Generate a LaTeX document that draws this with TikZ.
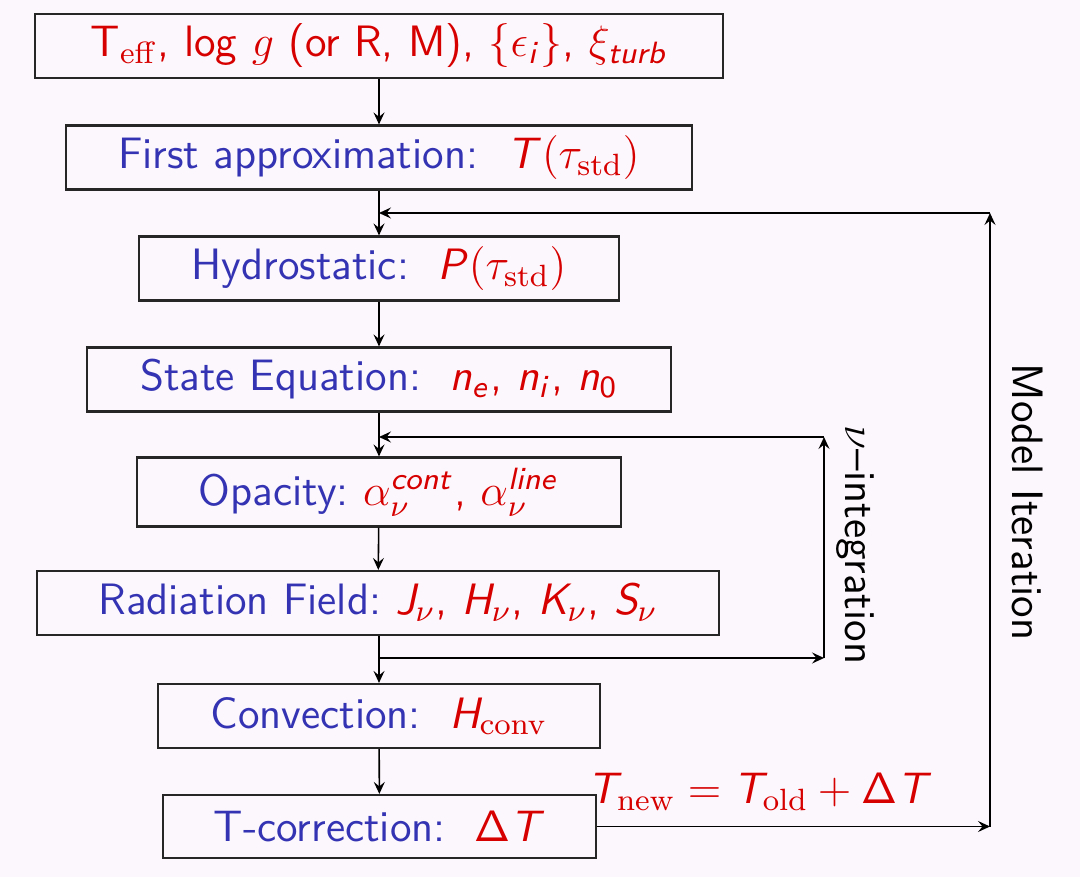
\documentclass[tikz,border=0pt]{standalone}
\usepackage{fix-cm}
\usepackage{amsmath}
\usetikzlibrary{arrows.meta}
\DeclareMathAlphabet{\mathsfsl}{OT1}{cmss}{m}{sl}
\definecolor{bgc}{RGB}{252,247,252}
\definecolor{bblue}{RGB}{51,51,179}
\definecolor{rred}{RGB}{215,0,0}
\newcommand{\sv}[1]{\mathsfsl{#1}}
\begin{document}
\begin{tikzpicture}[x=0.01cm,y=-0.01cm,
  font=\fontsize{12.5}{15}\selectfont\sffamily,
  box/.style={draw=black!85, line width=0.6pt, minimum height=0.64cm, inner sep=0pt},
  conn/.style={line width=0.45pt, -{Stealth[length=1.2mm,width=1.1mm,inset=0.45mm]}}]
\fill[bgc] (0,0) rectangle (1080,877);
\useasboundingbox (0,0) rectangle (1080,877);

\node[box, minimum width=6.88cm] (b1) at (379,46)
  {\color{rred}T$_{\mathrm{eff}}$, log $g$ (or R, M), $\{\epsilon_{\sv{i}}\}$, $\xi_{\sv{turb}}$};
\node[box, minimum width=6.26cm] (b2) at (379,157.5)
  {\textcolor{bblue}{First approximation:}\ \ \textcolor{rred}{$\sv{T}(\tau_{\mathrm{std}})$}};
\node[box, minimum width=4.80cm] (b3) at (379,268.5)
  {\textcolor{bblue}{Hydrostatic:}\ \ \textcolor{rred}{$\sv{P}(\tau_{\mathrm{std}})$}};
\node[box, minimum width=5.83cm] (b4) at (379,379.5)
  {\textcolor{bblue}{State Equation:}\ \ \textcolor{rred}{$\sv{n}_{\sv{e}}$, $\sv{n}_{\sv{i}}$, $\sv{n}_{\mathsf{0}}$}};
\node[box, minimum width=4.84cm, minimum height=0.69cm] (b5) at (379,492)
  {\textcolor{bblue}{Opacity:}\ \textcolor{rred}{$\alpha_\nu^{\sv{cont}}$, $\alpha_\nu^{\sv{line}}$}};
\node[box, minimum width=6.82cm] (b6) at (378,603)
  {\textcolor{bblue}{Radiation Field:}\ \textcolor{rred}{$\sv{J}_\nu$, $\sv{H}_\nu$, $\sv{K}_\nu$, $\sv{S}_\nu$}};
\node[box, minimum width=4.42cm] (b7) at (379,716)
  {\textcolor{bblue}{Convection:}\ \ \textcolor{rred}{$\sv{H}_{\mathrm{conv}}$}};
\node[box, minimum width=4.33cm, minimum height=0.63cm] (b8) at (379.5,826.5)
  {\textcolor{bblue}{T-correction:}\ \ \textcolor{rred}{$\mathsf{\Delta}\sv{T}$}};

\coordinate (j1) at (379,213);
\coordinate (j2) at (379,437);
\coordinate (j3) at (379,658);
\coordinate (c1) at (824,658);
\coordinate (c2) at (824,437);
\coordinate (m1) at (990,826.5);
\coordinate (m2) at (990,213);

\draw[conn] (b1) -- (b2);
\draw[conn] (b2) -- (b3);
\draw[conn] (b3) -- (b4);
\draw[conn] (b4) -- (b5);
\draw[conn] (b5) -- (b6);
\draw[conn] (b6.south -| j3) -- (b7);
\draw[conn] (b7) -- (b8);

\draw[conn] (j3) -- (c1);
\draw[conn] (c1) -- (c2);
\draw[conn] (c2) -- (j2);

\draw[conn] (b8.east) -- (m1);
\draw[conn] (m1) -- (m2);
\draw[conn] (m2) -- (j1);

\node (nulab) at (855,545) [rotate=-90] {$\nu$--integration};
\node (modlab) at (1028,502) [rotate=-90] {Model Iteration};
\node (tnew) at (760,792) {\color{rred}$\sv{T}_{\mathrm{new}} = \sv{T}_{\mathrm{old}} + \mathsf{\Delta}\sv{T}$};
\end{tikzpicture}
\end{document}
